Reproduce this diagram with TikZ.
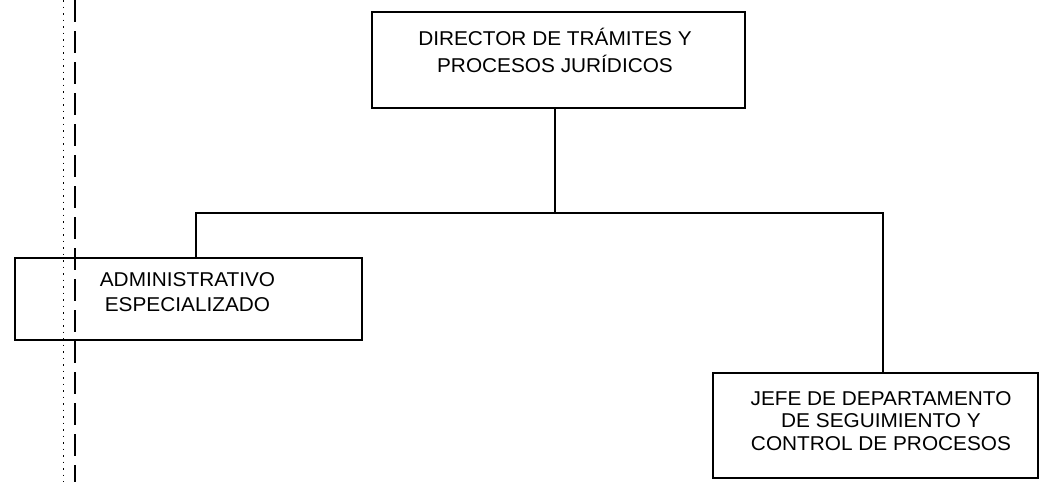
\documentclass[tikz,border=0pt]{standalone}
\usepackage{fontspec}
\setmainfont{Liberation Sans}[FakeStretch=1.04]
\begin{document}
\begin{tikzpicture}[x=1pt,y=-1pt,
  box/.style={draw, line width=1.5pt, rectangle, inner sep=0pt},
  lbl/.style={align=center, inner sep=0pt},
  conn/.style={line width=1.5pt},
  margthick/.style={line width=2.2pt, dash pattern=on 22pt off 9pt},
  margdot/.style={line width=1pt, dash pattern=on 1.5pt off 5pt}]
\useasboundingbox (0,0) rectangle (1040,482);
% scan margin lines
\draw[margdot] (63,0) -- (63,482);
\draw[margthick] (75,0) -- (75,482);
% boxes
\node[box, minimum width=373pt, minimum height=96pt] (dir) at (558.5,60) {};
\node[lbl, font=\fontsize{20}{27}\selectfont] (dirt) at (555,50) {DIRECTOR DE TRÁMITES Y\\PROCESOS JURÍDICOS};
\node[box, minimum width=347pt, minimum height=82pt] (adm) at (188.5,299) {};
\node[lbl, font=\fontsize{20}{25}\selectfont] (admt) at (187.5,292) {ADMINISTRATIVO\\ESPECIALIZADO};
\node[box, minimum width=325pt, minimum height=105pt] (jefe) at (875.5,425.5) {};
\node[lbl, font=\fontsize{20}{22.5}\selectfont] (jefet) at (881,421) {JEFE DE DEPARTAMENTO\\DE SEGUIMIENTO Y\\CONTROL DE PROCESOS};
% connectors
\coordinate (bus) at (555,213);
\coordinate (busL) at (196,213);
\coordinate (busR) at (883,213);
\draw[conn] (dir.south -| bus) -- (bus);
\draw[conn] (adm.north -| busL) -- (busL) -- (busR) -- (busR |- jefe.north);
\end{tikzpicture}
\end{document}
